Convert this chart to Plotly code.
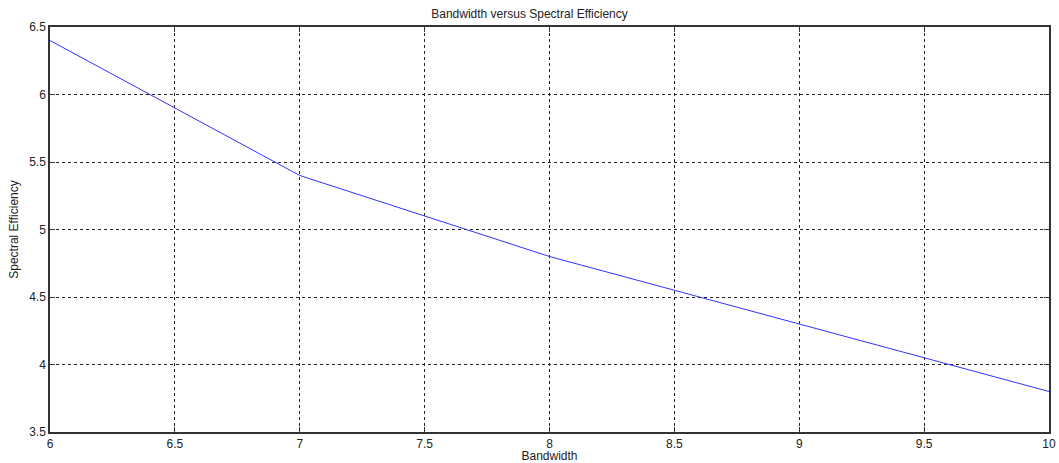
import plotly.graph_objects as go

bandwidth = [6, 7, 8, 9, 10]
spectral_efficiency = [6.4, 5.4, 4.8, 4.3, 3.8]

x_ticks = [6, 6.5, 7, 7.5, 8, 8.5, 9, 9.5, 10]
y_ticks = [3.5, 4, 4.5, 5, 5.5, 6, 6.5]

FONT = "Liberation Sans, Arial"

fig = go.Figure()
fig.add_trace(go.Scatter(x=bandwidth, y=spectral_efficiency, mode="lines",
                         line=dict(color="#3333ff", width=1), showlegend=False))

axis_common = dict(
    showline=True, linecolor="#333333", linewidth=1.5, mirror="ticks",
    ticks="inside", ticklen=5, tickcolor="#333333", tickwidth=1,
    showgrid=True, gridcolor="#222222", griddash="dot", gridwidth=1,
    zeroline=False, automargin=False,
    tickfont=dict(family=FONT, size=12, color="#222222"),
)

fig.update_xaxes(range=[6, 10], tickvals=x_ticks,
                 ticktext=[f"{v:g}" for v in x_ticks],
                 title=dict(text="Bandwidth", standoff=0,
                            font=dict(family=FONT, size=12, color="#222222")),
                 **axis_common)
fig.update_yaxes(range=[3.5, 6.5], tickvals=y_ticks,
                 ticktext=[f"{v:g}" for v in y_ticks],
                 title=dict(text="Spectral Efficiency", standoff=8,
                            font=dict(family=FONT, size=12, color="#222222")),
                 **axis_common)

fig.update_layout(
    width=1059, height=463,
    margin=dict(l=50, r=10, t=27, b=31),
    paper_bgcolor="white", plot_bgcolor="white",
    title=dict(text="Bandwidth versus Spectral Efficiency", x=0.5, xanchor="center",
               y=1 - 14/463, yanchor="middle",
               font=dict(family=FONT, size=12, color="#222222")),
)

fig.write_html("out.html")
